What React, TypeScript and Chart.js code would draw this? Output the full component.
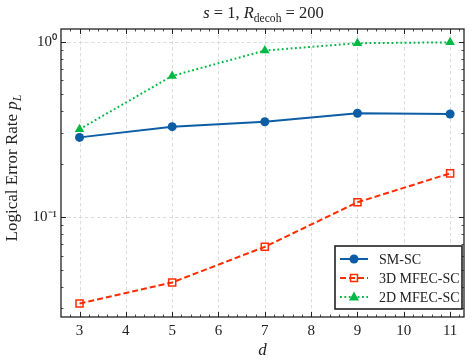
import React, { useEffect, useRef } from "react";
import { Chart, registerables } from "chart.js";
Chart.register(...registerables);

const dValues = [3, 5, 7, 9, 11];
const smSc = [0.284, 0.327, 0.349, 0.39, 0.386];
const mfec3d = [0.032, 0.0422, 0.0674, 0.121, 0.177];
const mfec2d = [0.316, 0.637, 0.889, 0.979, 0.99];
const seriesNames = ["SM-SC", "3D MFEC-SC", "2D MFEC-SC"];
const xMajorTicks = [3, 4, 5, 6, 7, 8, 9, 10, 11];
const yMajorTicks = [0.1, 1];
const yMinorTicks = [0.03, 0.04, 0.05, 0.06, 0.07, 0.08, 0.09, 0.2, 0.3, 0.4, 0.5, 0.6, 0.7, 0.8, 0.9];
const yTickLabels: Record<string, string> = { "0.1": "10\u207B\u00B9", "1": "10\u2070" };

const BLUE = "#0C5DA5";
const RED = "#FF2C00";
const GREEN = "#00B945";
const SERIF = '"Liberation Serif", "Times New Roman", serif';
const FS = 14;

type Part = { t: string; i?: boolean; sub?: boolean };

function drawRich(ctx: CanvasRenderingContext2D, parts: Part[], x: number, y: number, size: number) {
  const fontFor = (p: Part) => `${p.i ? "italic " : ""}${p.sub ? size * 0.7 : size}px ${SERIF}`;
  let total = 0;
  const widths = parts.map((p) => {
    ctx.font = fontFor(p);
    const w = ctx.measureText(p.t).width;
    total += w;
    return w;
  });
  let cx = x - total / 2;
  ctx.textAlign = "left";
  ctx.textBaseline = "alphabetic";
  parts.forEach((p, k) => {
    ctx.font = fontFor(p);
    ctx.fillText(p.t, cx, y + (p.sub ? size * 0.22 : 0));
    cx += widths[k];
  });
}

function drawMarker(ctx: CanvasRenderingContext2D, kind: number, x: number, y: number) {
  ctx.save();
  ctx.setLineDash([]);
  if (kind === 0) {
    ctx.fillStyle = BLUE;
    ctx.beginPath();
    ctx.arc(x, y, 4.5, 0, Math.PI * 2);
    ctx.fill();
  } else if (kind === 1) {
    ctx.strokeStyle = RED;
    ctx.lineWidth = 1.5;
    ctx.strokeRect(x - 3.5, y - 3.5, 7, 7);
  } else {
    ctx.fillStyle = GREEN;
    ctx.beginPath();
    ctx.moveTo(x, y - 5.5);
    ctx.lineTo(x + 5, y + 3.5);
    ctx.lineTo(x - 5, y + 3.5);
    ctx.closePath();
    ctx.fill();
  }
  ctx.restore();
}

const decorPlugin = {
  id: "decor",
  beforeDatasetsDraw(chart: any) {
    const { ctx, chartArea: a, scales } = chart;
    ctx.save();
    ctx.strokeStyle = "#d4d4d4";
    ctx.lineWidth = 0.8;
    ctx.setLineDash([3.5, 2.5]);
    xMajorTicks.forEach((v) => {
      const px = Math.round(scales.x.getPixelForValue(v)) + 0.5;
      ctx.beginPath();
      ctx.moveTo(px, a.top);
      ctx.lineTo(px, a.bottom);
      ctx.stroke();
    });
    yMajorTicks.forEach((v) => {
      const py = Math.round(scales.y.getPixelForValue(v)) + 0.5;
      ctx.beginPath();
      ctx.moveTo(a.left, py);
      ctx.lineTo(a.right, py);
      ctx.stroke();
    });
    ctx.restore();
  },
  afterDatasetsDraw(chart: any) {
    const { ctx, chartArea: a, scales } = chart;
    ctx.save();
    ctx.setLineDash([]);
    ctx.strokeStyle = "#222";
    const tick = (x1: number, y1: number, x2: number, y2: number, w: number) => {
      ctx.lineWidth = w;
      ctx.beginPath();
      ctx.moveTo(x1, y1);
      ctx.lineTo(x2, y2);
      ctx.stroke();
    };
    const xMinor: number[] = [];
    for (let k = 13; k <= 56; k++) {
      const v = k / 5;
      if (Math.abs(v - Math.round(v)) > 1e-6) xMinor.push(v);
    }
    xMajorTicks.forEach((v) => {
      const px = Math.round(scales.x.getPixelForValue(v)) + 0.5;
      tick(px, a.bottom, px, a.bottom - 5, 1);
      tick(px, a.top, px, a.top + 5, 1);
    });
    xMinor.forEach((v) => {
      const px = scales.x.getPixelForValue(v);
      if (px < a.left + 1 || px > a.right - 1) return;
      const rx = Math.round(px) + 0.5;
      tick(rx, a.bottom, rx, a.bottom - 2.5, 0.8);
      tick(rx, a.top, rx, a.top + 2.5, 0.8);
    });
    yMajorTicks.forEach((v) => {
      const py = Math.round(scales.y.getPixelForValue(v)) + 0.5;
      tick(a.left, py, a.left + 5, py, 1);
      tick(a.right, py, a.right - 5, py, 1);
    });
    yMinorTicks.forEach((v) => {
      const py = Math.round(scales.y.getPixelForValue(v)) + 0.5;
      if (py < a.top || py > a.bottom) return;
      tick(a.left, py, a.left + 2.5, py, 0.8);
      tick(a.right, py, a.right - 2.5, py, 0.8);
    });
    ctx.lineWidth = 1.3;
    ctx.strokeStyle = "#222";
    ctx.strokeRect(a.left, a.top, a.right - a.left, a.bottom - a.top);

    // legend
    const lx = 335, ly = 246, lw = 127, lh = 63;
    ctx.fillStyle = "#fff";
    ctx.fillRect(lx, ly, lw, lh);
    ctx.lineWidth = 1.6;
    ctx.strokeStyle = "#222";
    ctx.strokeRect(lx, ly, lw, lh);
    const rows = [259, 278, 297];
    const colors = [BLUE, RED, GREEN];
    const dashes = [[], [6, 3], [1.8, 2.6]];
    rows.forEach((ry, k) => {
      ctx.save();
      ctx.strokeStyle = colors[k];
      ctx.lineWidth = 2;
      ctx.setLineDash(dashes[k]);
      ctx.beginPath();
      ctx.moveTo(340, ry);
      ctx.lineTo(368, ry);
      ctx.stroke();
      ctx.restore();
      drawMarker(ctx, k, 354, ry);
      ctx.fillStyle = "#222";
      ctx.font = `${FS}px ${SERIF}`;
      ctx.textAlign = "left";
      ctx.textBaseline = "middle";
      ctx.fillText(seriesNames[k], 379, ry + 1);
    });
    ctx.restore();
  },
  afterDraw(chart: any) {
    const { ctx, chartArea: a } = chart;
    ctx.save();
    ctx.fillStyle = "#222";
    const cx = (a.left + a.right) / 2;
    drawRich(ctx, [{ t: "s", i: true }, { t: " = 1, " }, { t: "R", i: true }, { t: "decoh", sub: true }, { t: " = 200" }], cx + 1, 18, 16.5);
    drawRich(ctx, [{ t: "d", i: true }], cx, 355, 17);
    ctx.translate(17, 168);
    ctx.rotate(-Math.PI / 2);
    drawRich(ctx, [{ t: "Logical Error Rate " }, { t: "p", i: true }, { t: "L", i: true, sub: true }], 0, 0, 17);
    ctx.restore();
  },
};

export default function App() {
  const ref = useRef<HTMLCanvasElement>(null);
  useEffect(() => {
    if (!ref.current) return;
    const toPts = (ys: number[]) => dValues.map((d, i) => ({ x: d, y: ys[i] }));
    const chart = new Chart(ref.current, {
      type: "line",
      data: {
        datasets: [
          {
            label: seriesNames[0],
            data: toPts(smSc),
            borderColor: BLUE,
            backgroundColor: BLUE,
            borderWidth: 2,
            pointStyle: "circle",
            pointRadius: 4.5,
            pointBorderWidth: 0,
            tension: 0,
          },
          {
            label: seriesNames[1],
            data: toPts(mfec3d),
            borderColor: RED,
            backgroundColor: "rgba(0,0,0,0)",
            borderWidth: 2,
            borderDash: [6, 3],
            pointStyle: "rect",
            pointRadius: 5,
            pointBorderWidth: 1.5,
            tension: 0,
          },
          {
            label: seriesNames[2],
            data: toPts(mfec2d),
            borderColor: GREEN,
            backgroundColor: GREEN,
            borderWidth: 2,
            borderDash: [1.8, 2.6],
            pointStyle: "triangle",
            pointRadius: 5.5,
            pointBorderWidth: 0,
            tension: 0,
          },
        ],
      },
      options: {
        responsive: false,
        animation: false,
        layout: { padding: { top: 29, right: 12, left: 0, bottom: 0 } },
        plugins: { legend: { display: false }, tooltip: { enabled: false }, title: { display: false } },
        scales: {
          x: {
            type: "linear",
            min: 2.6,
            max: 11.3,
            grid: { display: false, drawTicks: false },
            border: { display: false },
            afterBuildTicks: (s: any) => {
              s.ticks = xMajorTicks.map((v) => ({ value: v }));
            },
            afterFit: (s: any) => {
              s.height = 47;
            },
            ticks: {
              autoSkip: false,
              maxRotation: 0,
              padding: 5,
              color: "#222",
              font: { family: SERIF, size: 15 },
              callback: (v: any) => String(v),
            },
          },
          y: {
            type: "logarithmic",
            min: 0.0268,
            max: 1.18,
            grid: { display: false, drawTicks: false },
            border: { display: false },
            afterBuildTicks: (s: any) => {
              s.ticks = [...yMinorTicks, ...yMajorTicks].sort((p, q) => p - q).map((v) => ({ value: v }));
            },
            afterFit: (s: any) => {
              s.width = 61;
            },
            ticks: {
              autoSkip: false,
              padding: 4,
              color: "#222",
              font: { family: SERIF, size: 15 },
              callback: (v: any) => yTickLabels[String(Number(v))] ?? "",
            },
          },
        },
      },
      plugins: [decorPlugin],
    } as any);
    return () => chart.destroy();
  }, []);
  return (
    <div style={{ position: "absolute", left: 0, top: 0, width: 476, height: 364, background: "#fff" }}>
      <canvas ref={ref} width={476} height={364} />
    </div>
  );
}
